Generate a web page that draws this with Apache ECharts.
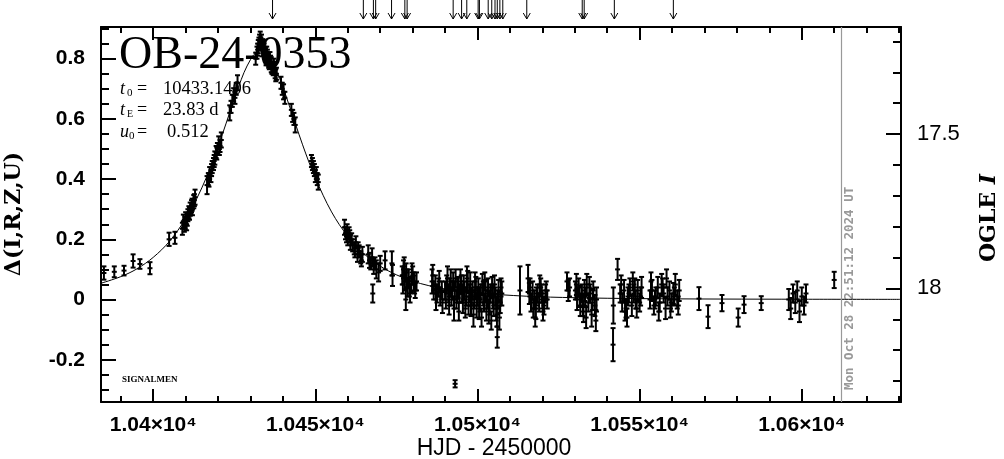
<!DOCTYPE html>
<html><head><meta charset="utf-8">
<script src="https://cdn.jsdelivr.net/npm/echarts@6/dist/echarts.min.js"></script>
<style>html,body{margin:0;padding:0;background:#fff}#c{width:1004px;height:459px}</style>
</head><body><div id="c"></div>
<script>
// ---- observations: HJD-2450000, Δ mag, error ----
const obsHJD = [
  10384.8, 10388.0, 10391.0, 10393.8, 10395.9, 10399.0, 10404.9, 10406.7,
  10409.0, 10409.3, 10409.6, 10410.0, 10410.3, 10410.7, 10411.0, 10411.4, 10411.8, 10412.1, 10412.5, 10412.9,
  10416.6, 10417.0, 10417.4, 10417.8, 10418.2, 10418.6, 10419.0, 10419.4, 10419.8, 10420.2, 10420.6, 10421.0,
  10423.6, 10424.0, 10424.4, 10424.8, 10425.2, 10425.6, 10426.0,
  10431.6, 10432.0, 10432.4, 10432.8, 10433.2, 10433.6, 10434.0, 10434.4, 10434.8, 10435.2, 10435.6, 10436.0, 10436.4, 10436.8, 10437.2, 10437.6, 10438.0,
  10439.4, 10439.8, 10440.2, 10440.6, 10442.6, 10443.0, 10443.4, 10443.8, 10448.8, 10449.1, 10449.4, 10449.7, 10450.0, 10450.3, 10450.6, 10450.9,
  10459.0, 10459.3, 10459.6, 10460.0, 10460.4, 10460.8, 10461.5, 10462.0, 10462.5, 10463.0, 10463.5, 10464.0, 10464.5,
  10466.3, 10466.7, 10467.1, 10467.5, 10467.7, 10468.0, 10468.4, 10468.8, 10469.5, 10470.0, 10471.5, 10473.6, 10473.8,
  10476.8, 10477.2, 10477.6, 10477.9, 10478.0, 10478.4, 10478.8, 10479.2, 10479.6, 10480.0, 10480.4, 10480.8, 10481.2,
  10486.0, 10486.5, 10487.0, 10487.5, 10488.0, 10488.5, 10489.0,
  10490.0, 10490.5, 10491.0, 10491.5, 10492.0, 10492.5, 10493.0, 10493.1, 10493.5, 10494.0, 10494.5, 10495.0, 10495.5, 10496.0, 10496.5, 10497.0, 10497.5, 10498.0, 10498.5, 10499.0, 10499.5, 10500.0, 10500.5, 10501.0, 10501.5, 10502.0, 10502.5, 10503.0, 10503.5, 10504.0, 10504.5, 10505.0, 10505.5, 10506.0, 10506.1, 10506.5, 10507.0, 10507.5,
  10513.1, 10515.6, 10516.0, 10516.5, 10517.0, 10517.5, 10518.0, 10518.5, 10519.0, 10519.5, 10520.0, 10520.5, 10521.0, 10521.5,
  10527.6, 10528.0, 10528.4, 10530.2, 10530.7, 10531.2, 10531.7, 10532.2, 10532.7, 10533.2, 10533.7, 10534.2, 10534.7, 10535.2, 10535.7, 10536.2, 10536.7,
  10541.8, 10541.9, 10543.2, 10544.0, 10544.6, 10545.2, 10545.8, 10546.4, 10547.0, 10547.6, 10548.2, 10548.8, 10549.4, 10550.0, 10550.6,
  10553.2, 10553.8, 10554.4, 10555.0, 10555.6, 10556.2, 10556.8, 10557.4, 10558.0, 10558.6, 10559.2, 10559.8, 10560.4, 10561.0, 10561.6, 10562.2,
  10568.3, 10571.1, 10575.4, 10580.4, 10582.2, 10587.5, 10596.0, 10596.6, 10597.3, 10598.0, 10598.6, 10599.3, 10600.0, 10600.7, 10601.3, 10610.0,
  // second pass (denser clusters)
  10409.8, 10410.5, 10411.2, 10412.0, 10412.7, 10417.2, 10418.0, 10418.8, 10419.6, 10420.4,
  10432.2, 10432.6, 10433.0, 10433.4, 10433.8, 10434.2, 10434.6, 10435.0, 10435.4, 10435.8, 10436.2, 10436.6, 10437.0, 10437.4, 10437.8,
  10459.8, 10460.6, 10461.2, 10462.2, 10463.2, 10464.2,
  10477.0, 10477.4, 10478.2, 10479.0, 10479.8, 10480.6,
  10486.2, 10487.2, 10488.2, 10489.2,
  10490.25, 10490.75, 10491.25, 10491.75, 10492.25, 10492.75, 10493.25, 10493.75, 10494.25, 10494.75, 10495.25, 10495.75, 10496.25, 10496.75, 10497.25, 10497.75, 10498.25, 10498.75, 10499.25, 10499.75, 10500.25, 10500.75, 10501.25, 10501.75, 10502.25, 10502.75, 10503.25, 10503.75, 10504.25, 10504.75, 10505.25, 10505.75, 10506.25, 10506.75, 10507.25,
  10516.2, 10517.2, 10518.2, 10519.2, 10520.2, 10521.2, 10517.8, 10519.8,
  10530.5, 10531.5, 10532.5, 10533.5, 10534.5, 10535.5, 10536.5, 10533.0,
  10544.3, 10545.5, 10546.7, 10547.9, 10549.1, 10550.3, 10546.1, 10548.5,
  10553.5, 10554.7, 10555.9, 10557.1, 10558.3, 10559.5, 10560.7, 10561.9
];
const obsDelta = [
  0.088, 0.092, 0.096, 0.128, 0.118, 0.104, 0.200, 0.205,
  0.235, 0.260, 0.245, 0.270, 0.250, 0.280, 0.290, 0.300, 0.310, 0.300, 0.325, 0.340,
  0.380, 0.400, 0.420, 0.410, 0.440, 0.450, 0.470, 0.490, 0.500, 0.520, 0.510, 0.530,
  0.620, 0.640, 0.660, 0.680, 0.670, 0.700, 0.720,
  0.800, 0.820, 0.840, 0.860, 0.850, 0.830, 0.840, 0.820, 0.800, 0.810, 0.790, 0.800, 0.780, 0.770, 0.780, 0.760, 0.750,
  0.720, 0.700, 0.690, 0.670, 0.630, 0.610, 0.600, 0.580, 0.460, 0.450, 0.440, 0.430, 0.410, 0.420, 0.400, 0.390,
  0.240, 0.220, 0.210, 0.200, 0.220, 0.190, 0.180, 0.170, 0.190, 0.150, 0.160, 0.140, 0.150,
  0.150, 0.130, 0.120, 0.140, 0.020, 0.110, 0.120, 0.100, 0.090, 0.120, 0.130, 0.120, 0.080,
  0.080, 0.100, 0.060, 0.000, 0.090, 0.040, 0.070, 0.020, 0.050, 0.080, 0.060, 0.030, 0.060,
  0.060, 0.030, 0.050, 0.020, 0.040, 0.010, 0.030,
  0.030, 0.050, 0.020, 0.040, 0.010, 0.060, 0.030, -0.280, 0.000, 0.040, 0.020, 0.050, -0.010, 0.030, 0.010, 0.060, 0.020, -0.020, 0.030, 0.000, 0.040, 0.010, -0.030, 0.020, 0.050, -0.010, 0.030, 0.000, -0.040, 0.020, 0.040, -0.020, 0.010, -0.050, -0.125, 0.030, -0.010, 0.020,
  0.030, 0.070, 0.020, -0.010, 0.030, 0.000, -0.030, 0.020, -0.010, 0.040, 0.000, -0.020, 0.020, 0.000,
  0.060, 0.030, 0.040, 0.030, 0.000, 0.040, -0.020, 0.020, -0.040, 0.010, 0.050, -0.010, 0.020, -0.050, 0.030, -0.020, 0.000,
  -0.150, -0.020, 0.100, 0.020, -0.010, 0.030, -0.030, 0.010, 0.040, -0.020, 0.020, 0.000, 0.030, -0.010, 0.040,
  0.000, 0.030, -0.020, 0.010, 0.040, -0.010, 0.050, 0.020, -0.030, 0.010, 0.030, -0.010, 0.020, 0.050, 0.000, 0.030,
  0.003, -0.057, -0.012, -0.060, -0.017, -0.012, 0.000, -0.030, 0.020, -0.010, 0.030, -0.040, 0.010, -0.020, 0.020, 0.065,
  // second pass
  0.255, 0.265, 0.285, 0.315, 0.330, 0.395, 0.430, 0.460, 0.485, 0.500,
  0.830, 0.850, 0.870, 0.860, 0.845, 0.830, 0.815, 0.820, 0.800, 0.785, 0.790, 0.770, 0.765, 0.770, 0.745,
  0.230, 0.210, 0.200, 0.160, 0.170, 0.130,
  0.050, 0.110, 0.070, 0.040, 0.090, 0.050,
  0.080, 0.000, 0.060, -0.010,
  0.000, 0.070, -0.020, 0.060, 0.030, -0.030, 0.070, 0.030, -0.040, 0.060, 0.020, 0.040, -0.030, 0.070, -0.020, 0.050, 0.010, -0.050, 0.060, -0.020, 0.040, 0.000, -0.060, 0.020, 0.060, -0.030, 0.040, -0.010, -0.070, 0.010, 0.050, -0.030, 0.000, -0.060, 0.040,
  0.040, -0.030, 0.010, 0.050, -0.040, 0.030, -0.060, 0.020,
  0.050, 0.010, -0.020, -0.060, 0.040, 0.000, -0.070, 0.030,
  0.050, -0.040, 0.020, 0.060, -0.030, 0.010, -0.060, 0.040,
  0.060, 0.000, -0.040, 0.040, 0.070, -0.030, 0.010, -0.020
];
const obsErr = [
  0.022, 0.018, 0.016, 0.022, 0.016, 0.020, 0.022, 0.020,
  0.020, 0.022, 0.020, 0.020, 0.020, 0.020, 0.020, 0.022, 0.020, 0.020, 0.022, 0.025,
  0.030, 0.020, 0.020, 0.020, 0.020, 0.020, 0.022, 0.020, 0.020, 0.022, 0.020, 0.025,
  0.025, 0.020, 0.020, 0.022, 0.020, 0.020, 0.025,
  0.020, 0.020, 0.022, 0.020, 0.020, 0.022, 0.020, 0.020, 0.022, 0.020, 0.020, 0.022, 0.025, 0.020, 0.020, 0.025, 0.020,
  0.020, 0.020, 0.025, 0.020, 0.020, 0.020, 0.020, 0.025, 0.020, 0.020, 0.020, 0.020, 0.020, 0.020, 0.020, 0.025,
  0.025, 0.020, 0.020, 0.020, 0.020, 0.025, 0.020, 0.020, 0.020, 0.025, 0.020, 0.020, 0.025,
  0.030, 0.025, 0.020, 0.030, 0.030, 0.025, 0.020, 0.030, 0.030, 0.025, 0.030, 0.040, 0.035,
  0.030, 0.030, 0.030, 0.035, 0.030, 0.030, 0.030, 0.030, 0.025, 0.030, 0.030, 0.025, 0.030,
  0.040, 0.030, 0.030, 0.030, 0.030, 0.030, 0.030,
  0.030, 0.030, 0.030, 0.030, 0.030, 0.030, 0.030, 0.012, 0.030, 0.035, 0.030, 0.030, 0.035, 0.030, 0.030, 0.035, 0.030, 0.035, 0.030, 0.030, 0.035, 0.030, 0.035, 0.030, 0.035, 0.030, 0.035, 0.030, 0.040, 0.030, 0.035, 0.035, 0.030, 0.040, 0.035, 0.035, 0.035, 0.040,
  0.080, 0.045, 0.035, 0.030, 0.030, 0.030, 0.035, 0.030, 0.030, 0.030, 0.030, 0.030, 0.030, 0.030,
  0.030, 0.035, 0.030, 0.030, 0.035, 0.030, 0.035, 0.030, 0.035, 0.030, 0.035, 0.030, 0.030, 0.040, 0.030, 0.035, 0.040,
  0.055, 0.060, 0.035, 0.030, 0.030, 0.035, 0.030, 0.030, 0.030, 0.035, 0.030, 0.030, 0.035, 0.030, 0.035,
  0.030, 0.035, 0.030, 0.030, 0.035, 0.030, 0.035, 0.030, 0.035, 0.030, 0.030, 0.030, 0.035, 0.035, 0.030, 0.035,
  0.038, 0.038, 0.027, 0.030, 0.028, 0.023, 0.035, 0.035, 0.030, 0.035, 0.030, 0.035, 0.030, 0.030, 0.030, 0.027,
  // second pass
  0.020, 0.020, 0.020, 0.020, 0.020, 0.020, 0.020, 0.020, 0.020, 0.020,
  0.020, 0.020, 0.020, 0.020, 0.020, 0.020, 0.020, 0.020, 0.020, 0.020, 0.020, 0.020, 0.020, 0.020, 0.020,
  0.020, 0.020, 0.020, 0.020, 0.020, 0.020,
  0.030, 0.030, 0.030, 0.030, 0.030, 0.030,
  0.035, 0.035, 0.035, 0.035,
  0.030, 0.040, 0.030, 0.040, 0.030, 0.040, 0.030, 0.040, 0.030, 0.040, 0.030, 0.040, 0.030, 0.040, 0.030, 0.040, 0.030, 0.040, 0.030, 0.040, 0.030, 0.040, 0.030, 0.040, 0.030, 0.040, 0.030, 0.040, 0.030, 0.040, 0.030, 0.040, 0.030, 0.040, 0.030,
  0.030, 0.030, 0.030, 0.030, 0.030, 0.030, 0.030, 0.030,
  0.035, 0.035, 0.035, 0.035, 0.035, 0.035, 0.035, 0.035,
  0.030, 0.030, 0.030, 0.030, 0.030, 0.030, 0.030, 0.030,
  0.030, 0.030, 0.030, 0.030, 0.030, 0.030, 0.030, 0.030
];

// ---- model curve ----
const modelHJD = [10383.9, 10390, 10395, 10400, 10405, 10410, 10412.5, 10415, 10417.5, 10420, 10422.5, 10425, 10428, 10430, 10431, 10433.14, 10434.5, 10436, 10439, 10442, 10444, 10446, 10448, 10450, 10455, 10460, 10465, 10470, 10475, 10480, 10485, 10490, 10500, 10515, 10530, 10550, 10575, 10600, 10630.6];
const modelDelta = [0.054, 0.076, 0.102, 0.140, 0.193, 0.268, 0.316, 0.371, 0.435, 0.508, 0.586, 0.666, 0.754, 0.797, 0.813, 0.826, 0.821, 0.802, 0.734, 0.643, 0.579, 0.516, 0.457, 0.403, 0.291, 0.210, 0.152, 0.111, 0.082, 0.061, 0.046, 0.035, 0.022, 0.011, 0.006, 0.003, 0.0015, 0.0009, 0.0005];

// ---- arrows above the frame ----
const arrowHJD = [10436.8, 10464.8, 10467.9, 10468.6, 10473.5, 10477.6, 10478.3, 10492.5, 10495.1, 10496.7, 10500.2, 10500.6, 10503.3, 10504.4, 10505.4, 10506.1, 10506.9, 10507.8, 10515.2, 10532.3, 10532.9, 10542.2, 10560.4];

// ---- misc marks ----
const nowHJD = [10612.1];
const cornerMark = [[10622.9, 0.839]];

// ---- axis ranges and ticks ----
const xRange = [10383.9, 10630.6];
const yRange = [-0.3405, 0.9053];
const magRange = [17.153, 18.368];
const xMajorTicks = [10400, 10450, 10500, 10550, 10600];
const xMinorTicks = [10390, 10400, 10410, 10420, 10430, 10440, 10450, 10460, 10470, 10480, 10490, 10500, 10510, 10520, 10530, 10540, 10550, 10560, 10570, 10580, 10590, 10600, 10610, 10620, 10630];
const yMajorTicks = [-0.2, 0, 0.2, 0.4, 0.6, 0.8];
const yMinorTicks = [-0.3, -0.25, -0.15, -0.1, -0.05, 0.05, 0.1, 0.15, 0.25, 0.3, 0.35, 0.45, 0.5, 0.55, 0.65, 0.7, 0.75, 0.85, 0.9];
const magMajorTicks = [17.5, 18];
const magMinorTicks = [17.2, 17.3, 17.4, 17.6, 17.7, 17.8, 17.9, 18.1, 18.2, 18.3];

const chart = echarts.init(document.getElementById('c'), null, {renderer: 'canvas'});
const K = '#000';
const off = {show: false};

function xAx(pos, ticks, len, withLine, withLabel) {
  return {
    type: 'value', gridIndex: 0, position: pos, min: xRange[0], max: xRange[1],
    splitLine: off,
    axisLine: {show: withLine, onZero: false, lineStyle: {color: K, width: 2}},
    axisTick: {show: true, inside: true, length: len, customValues: ticks, lineStyle: {color: K, width: 2}},
    axisLabel: withLabel ? {
      show: true, customValues: xMajorTicks, margin: 13, color: K,
      fontFamily: 'Liberation Sans', fontWeight: 'bold', fontSize: 21,
      formatter: v => (v / 1e4) + '×10⁴'
    } : off
  };
}
function yAx(pos, range, inv, ticks, len, withLine, label) {
  return {
    type: 'value', gridIndex: 0, position: pos, min: range[0], max: range[1], inverse: inv,
    splitLine: off,
    axisLine: {show: withLine, onZero: false, lineStyle: {color: K, width: 2}},
    axisTick: {show: true, inside: true, length: len, customValues: ticks, lineStyle: {color: K, width: 2}},
    axisLabel: label || off
  };
}

function txt(x, y, text, st, extra) {
  return Object.assign({
    type: 'text', x: x, y: y, silent: true,
    style: Object.assign({
      text: text, fill: K, fontFamily: 'Liberation Serif', fontSize: 18,
      align: 'left', verticalAlign: 'middle', textAlign: 'left', textVerticalAlign: 'middle'
    }, st || {})
  }, extra || {});
}

const graphics = [
  txt(119, 56, 'OB-24-0353', {fontSize: 46}),
  // t0
  txt(120, 89, 't', {fontStyle: 'italic', fontSize: 18}),
  txt(127, 93, '0', {fontSize: 11}),
  txt(137, 89, '=', {fontSize: 18}),
  txt(163, 89, '10433.1406', {fontSize: 18.5}),
  // tE
  txt(120, 110, 't', {fontStyle: 'italic', fontSize: 18}),
  txt(127, 114, 'E', {fontSize: 10}),
  txt(137, 110, '=', {fontSize: 18}),
  txt(163, 110, '23.83 d', {fontSize: 18.5}),
  // u0
  txt(120, 132, 'u', {fontStyle: 'italic', fontSize: 18}),
  txt(129, 136, '0', {fontSize: 11}),
  txt(137, 132, '=', {fontSize: 18}),
  txt(167, 132, '0.512', {fontSize: 18.5}),
  txt(122, 380, 'SIGNALMEN', {fontSize: 9, fontWeight: 'bold'}),
  txt(494, 449, 'HJD - 2450000', {fontFamily: 'Liberation Sans', fontSize: 23, align: 'center', textAlign: 'center'}),
  txt(14, 214, 'Δ(I,R,Z,U)', {fontFamily: 'DejaVu Serif', fontWeight: 'bold', fontSize: 22, align: 'center', textAlign: 'center'}, {rotation: Math.PI / 2}),
  txt(989, 218, '{a|OGLE }{b|I}', {
    align: 'center', textAlign: 'center',
    rich: {
      a: {fontFamily: 'DejaVu Serif', fontWeight: 'bold', fontSize: 22, fill: K, color: K},
      b: {fontFamily: 'DejaVu Serif', fontWeight: 'bold', fontStyle: 'italic', fontSize: 22, fill: K, color: K}
    }
  }, {rotation: Math.PI / 2}),
  txt(843, 390, 'Mon Oct 28 22:51:12 2024 UT', {
    fontFamily: 'DejaVu Sans Mono', fontWeight: 'bold', fontSize: 12.5, fill: '#999',
    verticalAlign: 'top', textVerticalAlign: 'top'
  }, {rotation: Math.PI / 2})
];

const option = {
  animation: false,
  backgroundColor: '#fff',
  grid: [
    {left: 101, right: 103, top: 27, bottom: 57},
    {left: 101, right: 103, top: 0, height: 19}
  ],
  xAxis: [
    xAx('bottom', xMajorTicks, 13, true, true),
    xAx('bottom', xMinorTicks, 6, false, false),
    xAx('top', xMajorTicks, 13, true, false),
    xAx('top', xMinorTicks, 6, false, false),
    {type: 'value', gridIndex: 1, min: xRange[0], max: xRange[1], show: false}
  ],
  yAxis: [
    yAx('left', yRange, false, yMajorTicks, 15, true, {
      show: true, customValues: yMajorTicks, margin: 16, color: K,
      fontFamily: 'Liberation Sans', fontWeight: 'bold', fontSize: 21,
      formatter: v => String(Math.round(v * 10) / 10)
    }),
    yAx('left', yRange, false, yMinorTicks, 8, false, null),
    yAx('right', magRange, true, magMajorTicks, 15, true, {
      show: true, customValues: magMajorTicks, margin: 16, color: K,
      fontFamily: 'Liberation Sans', fontSize: 22,
      formatter: v => String(Math.round(v * 10) / 10)
    }),
    yAx('right', magRange, true, magMinorTicks, 8, false, null),
    {type: 'value', gridIndex: 1, min: 0, max: 1, show: false}
  ],
  graphic: graphics,
  series: [
    {
      type: 'line', xAxisIndex: 0, yAxisIndex: 0, clip: true, smooth: 0.35,
      showSymbol: false, silent: true,
      data: modelHJD.map((t, i) => [t, modelDelta[i]]),
      lineStyle: {color: K, width: 1},
      markLine: {
        silent: true, symbol: 'none', label: off,
        lineStyle: {color: '#999', width: 1.2, type: 'solid'},
        data: nowHJD.map(t => ({xAxis: t}))
      },
      z: 3
    },
    {
      type: 'custom', xAxisIndex: 0, yAxisIndex: 0, clip: true, silent: true,
      data: obsHJD.map((t, i) => [t, obsDelta[i], obsErr[i]]),
      encode: {x: 0, y: 1},
      renderItem: function (params, api) {
        const t = api.value(0), d = api.value(1), e = api.value(2);
        const hi = api.coord([t, d + e]), lo = api.coord([t, d - e]), c = api.coord([t, d]);
        const w = 2.5;
        const st = {stroke: K, lineWidth: 2};
        return {
          type: 'group', children: [
            {type: 'line', shape: {x1: hi[0], y1: hi[1], x2: lo[0], y2: lo[1]}, style: st},
            {type: 'line', shape: {x1: hi[0] - w, y1: hi[1], x2: hi[0] + w, y2: hi[1]}, style: st},
            {type: 'line', shape: {x1: lo[0] - w, y1: lo[1], x2: lo[0] + w, y2: lo[1]}, style: st},
            {type: 'line', shape: {x1: c[0] - w, y1: c[1], x2: c[0] + w, y2: c[1]}, style: st}
          ]
        };
      },
      z: 4
    },
    {
      type: 'scatter', xAxisIndex: 0, yAxisIndex: 0, silent: true,
      data: cornerMark, symbol: 'emptyCircle', symbolSize: 5,
      itemStyle: {color: '#fff', borderColor: K, borderWidth: 2}
    },
    {
      type: 'custom', xAxisIndex: 4, yAxisIndex: 4, silent: true, clip: false,
      data: arrowHJD.map(t => [t]),
      encode: {x: 0},
      renderItem: function (params, api) {
        const t = api.value(0);
        const top = api.coord([t, 1]), bot = api.coord([t, 0]);
        const st = {stroke: K, lineWidth: 1, fill: null};
        return {
          type: 'group', children: [
            {type: 'line', shape: {x1: top[0], y1: top[1], x2: bot[0], y2: bot[1]}, style: st},
            {type: 'polyline', shape: {points: [[bot[0] - 3.5, bot[1] - 6], [bot[0], bot[1]], [bot[0] + 3.5, bot[1] - 6]]}, style: st}
          ]
        };
      }
    }
  ]
};
chart.setOption(option);
</script>
</body></html>
